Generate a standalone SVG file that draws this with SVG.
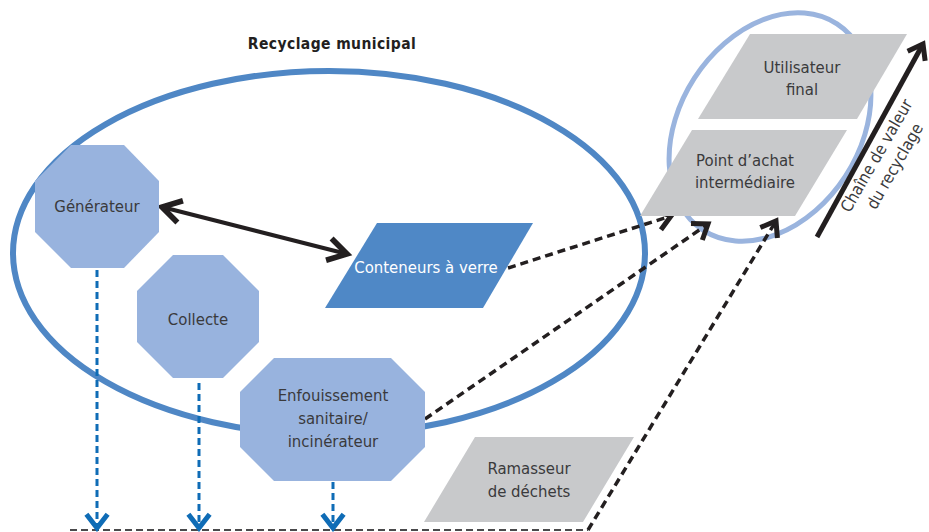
<svg xmlns="http://www.w3.org/2000/svg" width="929" height="532" viewBox="0 0 929 532">
<style>
  .lbl { font-family: "DejaVu Sans Condensed", "Liberation Sans", sans-serif; font-size: 16.6px; fill: #3a3a3c; text-anchor: middle; }
  .title { font-family: "DejaVu Sans Condensed", "Liberation Sans", sans-serif; font-size: 15.5px; font-weight: bold; fill: #231f20; text-anchor: middle; letter-spacing: 0.4px; }
  .oct { fill: #98b3de; }
  .grey { fill: #c8c9cb; }
  .blk { fill: none; stroke: #231f20; stroke-width: 3.5; stroke-dasharray: 8 5; }
  .blue { fill: none; stroke: #0f6cb6; stroke-width: 3; stroke-dasharray: 7 4; }
</style>
<defs>
  <marker id="chev" markerUnits="userSpaceOnUse" markerWidth="30" markerHeight="30" viewBox="-20 -12 24 24" refX="0" refY="0" orient="auto-start-reverse" overflow="visible">
    <path d="M-15,-9 L0,0 L-15,9" fill="none" stroke="#231f20" stroke-width="4.5"/>
  </marker>
  <marker id="chevS" markerUnits="userSpaceOnUse" markerWidth="30" markerHeight="30" viewBox="-20 -12 24 24" refX="0" refY="0" orient="auto" overflow="visible">
    <path d="M-11,-8 L0,0 L-11,8" fill="none" stroke="#231f20" stroke-width="4"/>
  </marker>
  <marker id="chevB" markerUnits="userSpaceOnUse" markerWidth="30" markerHeight="30" viewBox="-20 -12 24 24" refX="0" refY="0" orient="auto" overflow="visible">
    <path d="M-11,-8.5 L0,0 L-11,8.5" fill="none" stroke="#0f6cb6" stroke-width="4"/>
  </marker>
</defs>

<text class="title" x="332" y="49">Recyclage municipal</text>

<ellipse id="municipal-ellipse" cx="329" cy="253" rx="316" ry="182" fill="none" stroke="#4f87c5" stroke-width="6"/>
<ellipse id="chain-ellipse" cx="770" cy="127" rx="123" ry="90" transform="rotate(-57 770 127)" fill="none" stroke="#9ab4de" stroke-width="5"/>

<g id="connectors">
  <line x1="162" y1="207" x2="347" y2="254" stroke="#231f20" stroke-width="4" marker-start="url(#chev)" marker-end="url(#chev)"/>
  <line class="blk" x1="508" y1="268" x2="671" y2="216" marker-end="url(#chevS)"/>
  <line class="blk" x1="425" y1="419" x2="708" y2="224" marker-end="url(#chevS)"/>
  <path class="blk" d="M588,530 L776,221" marker-end="url(#chevS)"/>
  <line x1="70" y1="530" x2="588" y2="530" stroke="#4a4a4c" stroke-width="2" stroke-dasharray="7 4"/>
  <line class="blue" x1="97" y1="270" x2="97" y2="528" marker-end="url(#chevB)"/>
  <line class="blue" x1="199" y1="383" x2="199" y2="528" marker-end="url(#chevB)"/>
  <line class="blue" x1="333" y1="482" x2="333" y2="528" marker-end="url(#chevB)"/>
  <line x1="817" y1="237" x2="923" y2="44" stroke="#231f20" stroke-width="5" marker-end="url(#chevS)"/>
</g>

<g id="generateur">
  <polygon class="oct" points="71,145 124,145 159,181 159,232 124,268 71,268 35,232 35,181"/>
  <text class="lbl" x="97" y="212">Générateur</text>
</g>
<g id="collecte">
  <polygon class="oct" points="173,255 223,255 259,291 259,342 223,378 173,378 137,342 137,291"/>
  <text class="lbl" x="198" y="325">Collecte</text>
</g>
<g id="enfouissement">
  <polygon class="oct" points="274,358 391,358 425,392 425,447 391,481 274,481 240,447 240,392"/>
  <text class="lbl" x="333" y="401">Enfouissement</text>
  <text class="lbl" x="333" y="424">sanitaire/</text>
  <text class="lbl" x="333" y="447">incinérateur</text>
</g>
<g id="conteneurs">
  <polygon fill="#4f88c6" points="377,223 533,223 483,308 325,308"/>
  <text class="lbl" x="426" y="273" style="fill:#ffffff">Conteneurs à verre</text>
</g>
<g id="utilisateur">
  <polygon class="grey" points="750,34 907,34 857,119 698,119"/>
  <text class="lbl" x="802" y="73">Utilisateur</text>
  <text class="lbl" x="802" y="95">final</text>
</g>
<g id="point-achat">
  <polygon class="grey" points="692,130 847,130 795,216 640,216"/>
  <text class="lbl" x="745" y="166">Point d’achat</text>
  <text class="lbl" x="745" y="188">intermédiaire</text>
</g>
<g id="ramasseur">
  <polygon class="grey" points="475,437 634,437 583,522 424,522"/>
  <text class="lbl" x="529" y="474">Ramasseur</text>
  <text class="lbl" x="529" y="497">de déchets</text>
</g>

<g id="chain-label" transform="translate(884,160) rotate(-60)">
  <text class="lbl" x="0" y="-3">Chaîne de valeur</text>
  <text class="lbl" x="0" y="18">du recyclage</text>
</g>
</svg>
